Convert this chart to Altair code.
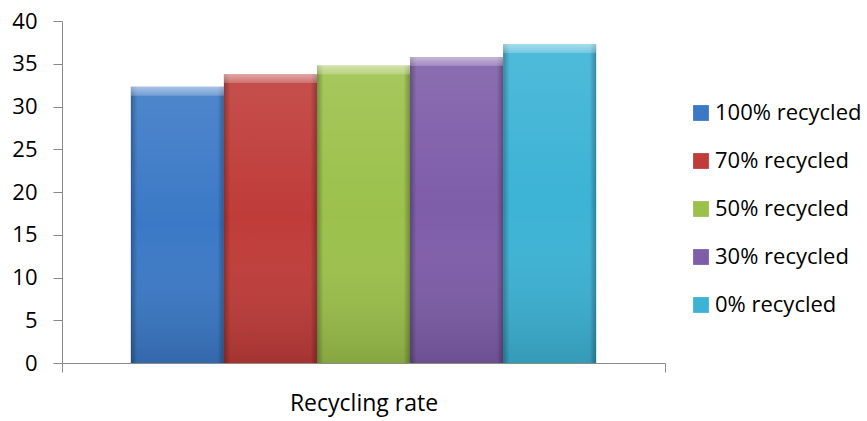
import altair as alt
import pandas as pd

category = "Recycling rate"
series = ["100% recycled", "70% recycled", "50% recycled", "30% recycled", "0% recycled"]
values = [32.3, 33.8, 34.8, 35.8, 37.3]
colors = ["#3B79C6", "#BF3C39", "#9CC14B", "#7E5DA9", "#3CB3D5"]

df = pd.DataFrame({"category": [category] * len(series), "series": series, "value": values})

FONT = "Open Sans"

x_enc = alt.X("category:N", title=None,
              scale=alt.Scale(paddingInner=0, paddingOuter=0),
              axis=alt.Axis(labelAngle=0, tickBand="extent", tickSize=9,
                            grid=False, gridOpacity=0,
                            domainColor="#8a8a8a", tickColor="#8a8a8a",
                            labelFontSize=23, labelFont=FONT, labelColor="#000000",
                            labelPadding=20))
xo_enc = alt.XOffset("series:N", sort=series,
                     scale=alt.Scale(paddingInner=0, paddingOuter=0.74))
y_scale = alt.Scale(domain=[0, 40])
y_enc = alt.Y("value:Q", title=None, scale=y_scale,
              axis=alt.Axis(values=list(range(0, 41, 5)), grid=False, gridOpacity=0,
                            tickSize=9,
                            domainColor="#8a8a8a", tickColor="#8a8a8a",
                            labelFontSize=22, labelFont=FONT, labelColor="#000000",
                            labelPadding=16))

base = alt.Chart(df)

bars = base.mark_bar().encode(
    x=x_enc,
    xOffset=xo_enc,
    y=y_enc,
    color=alt.Color("series:N", sort=series,
                    scale=alt.Scale(domain=series, range=colors),
                    legend=alt.Legend(title=None, orient="none", legendX=628, legendY=81,
                                      symbolType="square", symbolSize=250,
                                      symbolStrokeWidth=0, rowPadding=26,
                                      labelFontSize=22, labelFont=FONT,
                                      labelColor="#000000", labelOffset=3)),
)

# vertical shading: lighter near the top, darker near the base
shade_v = base.mark_bar(
    color=alt.Gradient(
        gradient="linear", x1=0, x2=0, y1=0, y2=1,
        stops=[alt.GradientStop(offset=0, color="rgba(255,255,255,0.10)"),
               alt.GradientStop(offset=0.5, color="rgba(255,255,255,0)"),
               alt.GradientStop(offset=1, color="rgba(0,0,0,0.14)")])
).encode(x=x_enc, xOffset=xo_enc, y=y_enc)

# darker left and right edges of each bar
shade_h = base.mark_bar(
    color=alt.Gradient(
        gradient="linear", x1=0, x2=1, y1=0, y2=0,
        stops=[alt.GradientStop(offset=0, color="rgba(0,0,0,0.28)"),
               alt.GradientStop(offset=0.07, color="rgba(0,0,0,0)"),
               alt.GradientStop(offset=0.93, color="rgba(0,0,0,0)"),
               alt.GradientStop(offset=1, color="rgba(0,0,0,0.28)")])
).encode(x=x_enc, xOffset=xo_enc, y=y_enc)

# bevel highlight along the top edge
highlight = base.transform_calculate(
    lip="datum.value - 1.05"
).mark_bar(
    color=alt.Gradient(
        gradient="linear", x1=0, x2=0, y1=0, y2=1,
        stops=[alt.GradientStop(offset=0, color="rgba(255,255,255,0.50)"),
               alt.GradientStop(offset=1, color="rgba(255,255,255,0.20)")])
).encode(x=x_enc, xOffset=xo_enc, y=y_enc, y2="lip:Q")

chart = alt.layer(bars, shade_v, shade_h, highlight).properties(
    width=603, height=342,
    view=alt.ViewBackground(stroke="transparent", strokeWidth=0, strokeOpacity=0),
    autosize=alt.AutoSizeParams(type="none"),
    padding={"left": 62, "top": 21, "right": 202, "bottom": 58},
).configure(
    background="#ffffff",
    style={"cell": {"stroke": "transparent", "strokeWidth": 0, "strokeOpacity": 0}},
).configure_axis(
    grid=False,
    gridOpacity=0,
).configure_axisX(
    grid=False,
    gridOpacity=0,
).configure_axisY(
    grid=False,
    gridOpacity=0,
).configure_view(
    stroke="transparent",
    strokeWidth=0,
    strokeOpacity=0,
)

chart.save("out.html", embed_options={"renderer": "svg", "actions": False})
